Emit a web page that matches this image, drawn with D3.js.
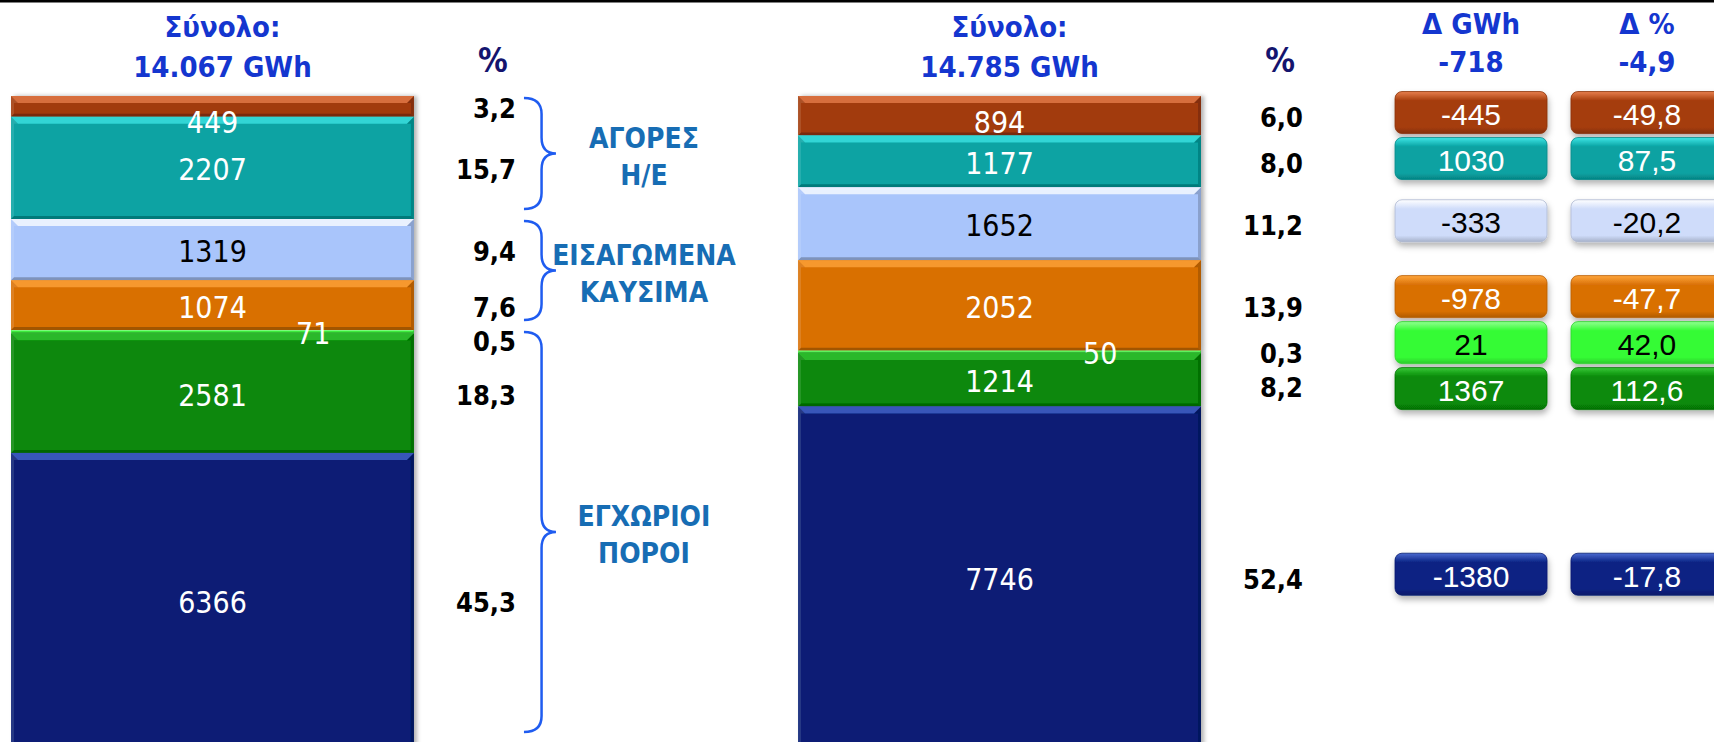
<!DOCTYPE html>
<html>
<head>
<meta charset="utf-8">
<script src="https://cdn.jsdelivr.net/npm/d3@7"></script>
<style>
  html, body { margin: 0; padding: 0; background: #fff; overflow: hidden; }
  svg { display: block; }
  .cond { font-family: "DejaVu Sans Condensed", "DejaVu Sans", sans-serif; font-stretch: condensed; }
  .arial { font-family: "Liberation Sans", Arial, sans-serif; }
</style>
</head>
<body>
<div id="chart"></div>
<script>
// sources in stack order, top to bottom
var sources = ["imports", "ipp", "gas", "oil", "res", "hydro", "lignite"];
var periods = ["current", "previous"];
var totals = ["14.067", "14.785"];

var valuesCurrent = [449, 2207, 1319, 1074, 71, 2581, 6366];
var valuesPrevious = [894, 1177, 1652, 2052, 50, 1214, 7746];

var pctCurrent = ["3,2", "15,7", "9,4", "7,6", "0,5", "18,3", "45,3"];
var pctPrevious = ["6,0", "8,0", "11,2", "13,9", "0,3", "8,2", "52,4"];

var deltaGWh = ["-445", "1030", "-333", "-978", "21", "1367", "-1380"];
var deltaPct = ["-49,8", "87,5", "-20,2", "-47,7", "42,0", "112,6", "-17,8"];
var deltaHeads = ["Δ GWh", "Δ %"];
var deltaTotals = ["-718", "-4,9"];

var groupNames = [["ΑΓΟΡΕΣ", "Η/Ε"], ["ΕΙΣΑΓΩΜΕΝΑ", "ΚΑΥΣΙΜΑ"], ["ΕΓΧΩΡΙΟΙ", "ΠΟΡΟΙ"]];
var groupFirst = [0, 2, 4];
var groupLast = [1, 3, 6];

// colours: base, highlight
var colors = {
  imports: ["#a23a0b", "#e8804e"],
  ipp: ["#07a3a3", "#40e6e6"],
  gas: ["#a9c5fb", "#ffffff"],
  oil: ["#d97006", "#ffa63c"],
  res: ["#3cec3c", "#90ff90"],
  hydro: ["#078807", "#38c838"],
  lignite: ["#071e74", "#4a6ad0"]
};
var boxColors = {
  imports: "#a53c0c", ipp: "#08a2a2", gas: "#cfdcfa", oil: "#d97006",
  res: "#35fb35", hydro: "#078a07", lignite: "#0b2283"
};
var darkText = ["gas", "res"];

var W = 1714, H = 742;

var svg = d3.select("#chart").append("svg")
  .attr("width", W)
  .attr("height", H);

var defs = svg.append("defs");

var barShadow = defs.append("filter").attr("id", "barShadow")
  .attr("x", "-5%").attr("y", "-5%").attr("width", "115%").attr("height", "110%");
barShadow.append("feDropShadow")
  .attr("dx", 3).attr("dy", 0).attr("stdDeviation", 2)
  .attr("flood-color", "#000").attr("flood-opacity", 0.3);

var boxShadow = defs.append("filter").attr("id", "boxShadow")
  .attr("x", "-10%").attr("y", "-20%").attr("width", "125%").attr("height", "160%");
boxShadow.append("feDropShadow")
  .attr("dx", 1).attr("dy", 4).attr("stdDeviation", 3)
  .attr("flood-color", "#000").attr("flood-opacity", 0.3);

sources.forEach(function (s) {
  var base = boxColors[s];
  var g = defs.append("linearGradient").attr("id", "box-" + s)
    .attr("x1", 0).attr("y1", 0).attr("x2", 0).attr("y2", 1);
  g.append("stop").attr("offset", "0%").attr("stop-color", d3.color(colors[s][1]).toString());
  g.append("stop").attr("offset", "22%").attr("stop-color", base);
  g.append("stop").attr("offset", "85%").attr("stop-color", base);
  g.append("stop").attr("offset", "100%").attr("stop-color", d3.color(base).darker(0.6).toString());
});

// top rule
svg.append("rect")
  .attr("x", 0).attr("y", 0)
  .attr("width", W).attr("height", 2.5)
  .attr("fill", "#000");

// scales
var x = d3.scaleBand()
  .domain(periods)
  .range([11, 1201])
  .paddingInner(0.488)
  .paddingOuter(0);

var y = d3.scaleLinear()
  .domain([0, 1])
  .range([96, 748]);

var rows = [valuesCurrent, valuesPrevious].map(function (vals, i) {
  var total = d3.sum(vals);
  var r = { period: periods[i] };
  sources.forEach(function (s, j) { r[s] = vals[j] / total; });
  return r;
});

var stack = d3.stack().keys(sources).order(d3.stackOrderNone)(rows);

var barData = periods.map(function (p, i) {
  var vals = i === 0 ? valuesCurrent : valuesPrevious;
  return sources.map(function (s, j) {
    var seg = stack[j][i];
    return { period: p, source: s, value: vals[j], y0: y(seg[0]), y1: y(seg[1]) };
  });
});

function bevel(g, d, bx, bw) {
  var h = d.y1 - d.y0;
  var b = Math.min(7, h / 3);
  var e = Math.min(3, h / 3);
  g.append("rect")
    .attr("x", bx).attr("y", d.y0)
    .attr("width", bw).attr("height", h)
    .attr("fill", colors[d.source][0]);
  // top
  g.append("polygon")
    .attr("points", [[bx, d.y0], [bx + bw, d.y0], [bx + bw - b, d.y0 + b], [bx + b, d.y0 + b]].join(" "))
    .attr("fill", colors[d.source][1]).attr("opacity", 0.75);
  // bottom
  g.append("polygon")
    .attr("points", [[bx, d.y1], [bx + bw, d.y1], [bx + bw - e, d.y1 - e], [bx + e, d.y1 - e]].join(" "))
    .attr("fill", "#000").attr("opacity", 0.25);
  // right
  g.append("polygon")
    .attr("points", [[bx + bw, d.y0], [bx + bw, d.y1], [bx + bw - e, d.y1 - e], [bx + bw - e, d.y0 + b], [bx + bw - b, d.y0 + b]].join(" "))
    .attr("fill", "#000").attr("opacity", 0.18);
  // left
  g.append("polygon")
    .attr("points", [[bx, d.y0], [bx, d.y1], [bx + e, d.y1 - e], [bx + e, d.y0 + b], [bx + b, d.y0 + b]].join(" "))
    .attr("fill", "#fff").attr("opacity", 0.12);
}

function spread(centers, gap) {
  var out = [];
  centers.forEach(function (c, i) {
    out.push(i ? Math.max(c, out[i - 1] + gap) : c);
  });
  return out;
}

function relax(centers, gap) {
  var out = centers.slice();
  for (var it = 0; it < 60; it++) {
    for (var i = 1; i < out.length; i++) {
      var d = out[i] - out[i - 1];
      if (d < gap) {
        var s = (gap - d) / 2;
        out[i - 1] -= s;
        out[i] += s;
      }
    }
  }
  return out;
}

periods.forEach(function (p, i) {
  var bx = x(p), bw = x.bandwidth();
  var segs = barData[i];

  var bar = svg.append("g").attr("filter", "url(#barShadow)");
  segs.forEach(function (d) { bevel(bar, d, bx, bw); });

  // values inside the bar
  segs.forEach(function (d) {
    var h = d.y1 - d.y0;
    var small = h < 10;
    var cy = small ? (d.y0 + d.y1) / 2 : Math.max((d.y0 + d.y1) / 2, d.y0 + 24);
    svg.append("text")
      .attr("class", "cond")
      .attr("x", small ? bx + bw * 0.75 : bx + bw / 2)
      .attr("y", cy + 2)
      .attr("text-anchor", "middle")
      .attr("dominant-baseline", "central")
      .attr("font-size", 30)
      .attr("fill", d.source === "gas" ? "#000" : "#fff")
      .text(d.value);
  });

  // title
  svg.append("text")
    .attr("class", "cond")
    .attr("x", bx + bw / 2 + 10)
    .attr("y", 37)
    .attr("text-anchor", "middle")
    .attr("font-size", 29)
    .attr("font-weight", "bold")
    .attr("fill", "#1436cf")
    .text("Σύνολο:");
  svg.append("text")
    .attr("class", "cond")
    .attr("x", bx + bw / 2 + 10)
    .attr("y", 77)
    .attr("text-anchor", "middle")
    .attr("font-size", 29)
    .attr("font-weight", "bold")
    .attr("fill", "#1436cf")
    .text(totals[i] + " GWh");

  // % column
  svg.append("text")
    .attr("class", "cond")
    .attr("x", bx + bw + 79)
    .attr("y", 72)
    .attr("text-anchor", "middle")
    .attr("font-size", 33)
    .attr("font-weight", "bold")
    .attr("fill", "#14146e")
    .text("%");

  var pcts = i === 0 ? pctCurrent : pctPrevious;
  var py = spread(segs.map(function (d) { return (d.y0 + d.y1) / 2; }), 34);
  pcts.forEach(function (t, j) {
    svg.append("text")
      .attr("class", "cond")
      .attr("x", bx + bw + 102)
      .attr("y", py[j] + 2)
      .attr("text-anchor", "end")
      .attr("dominant-baseline", "central")
      .attr("font-size", 27)
      .attr("font-weight", "bold")
      .attr("fill", "#000")
      .text(t);
  });
});

// braces and group names beside the first bar
function bracePath(bx, y1, y2, w) {
  var ym = (y1 + y2) / 2, r = Math.min(16, (y2 - y1) / 4), m = bx + w * 0.55;
  var p = d3.path();
  p.moveTo(bx, y1);
  p.quadraticCurveTo(m, y1, m, y1 + r);
  p.lineTo(m, ym - r);
  p.quadraticCurveTo(m, ym, bx + w, ym);
  p.quadraticCurveTo(m, ym, m, ym + r);
  p.lineTo(m, y2 - r);
  p.quadraticCurveTo(m, y2, bx, y2);
  return p.toString();
}

var firstEnd = x(periods[0]) + x.bandwidth();
groupNames.forEach(function (lines, k) {
  var top = barData[0][groupFirst[k]].y0;
  var bot = Math.min(barData[0][groupLast[k]].y1, H);
  var y1 = top + 2, y2 = bot - 10;
  svg.append("path")
    .attr("d", bracePath(firstEnd + 110, y1, y2, 32))
    .attr("fill", "none")
    .attr("stroke", "#1f5cf0")
    .attr("stroke-width", 2.5);
  var mid = (y1 + y2) / 2 + 3;
  lines.forEach(function (t, li) {
    svg.append("text")
      .attr("class", "cond")
      .attr("x", firstEnd + 230)
      .attr("y", mid + (li - 0.5) * 37)
      .attr("text-anchor", "middle")
      .attr("dominant-baseline", "central")
      .attr("font-size", 28)
      .attr("font-weight", "bold")
      .attr("fill", "#176db4")
      .text(t);
  });
});

// delta columns
var col = d3.scaleBand()
  .domain(deltaHeads)
  .range([1395, 1723])
  .paddingInner(0.136)
  .paddingOuter(0);

var boxH = 42;
var boxY = relax(barData[1].map(function (d) { return (d.y0 + d.y1) / 2; }), 46)
  .map(function (v) { return v - 3; });

deltaHeads.forEach(function (hd, c) {
  var cx = col(hd) + col.bandwidth() / 2;
  svg.append("text")
    .attr("class", "cond")
    .attr("x", cx)
    .attr("y", 34)
    .attr("text-anchor", "middle")
    .attr("font-size", 29)
    .attr("font-weight", "bold")
    .attr("fill", "#1436cf")
    .text(hd);
  svg.append("text")
    .attr("class", "cond")
    .attr("x", cx)
    .attr("y", 72)
    .attr("text-anchor", "middle")
    .attr("font-size", 29)
    .attr("font-weight", "bold")
    .attr("fill", "#1436cf")
    .text(deltaTotals[c]);

  var vals = c === 0 ? deltaGWh : deltaPct;
  sources.forEach(function (s, j) {
    svg.append("rect")
      .attr("x", col(hd))
      .attr("y", boxY[j] - boxH / 2)
      .attr("width", col.bandwidth())
      .attr("height", boxH)
      .attr("rx", 7)
      .attr("fill", "url(#box-" + s + ")")
      .attr("stroke", d3.color(boxColors[s]).darker(0.5).toString())
      .attr("stroke-width", 0.8)
      .attr("filter", "url(#boxShadow)");
    svg.append("text")
      .attr("class", "arial")
      .attr("x", cx)
      .attr("y", boxY[j] + 2)
      .attr("text-anchor", "middle")
      .attr("dominant-baseline", "central")
      .attr("font-size", 30)
      .attr("fill", darkText.indexOf(s) >= 0 ? "#000" : "#fff")
      .text(vals[j]);
  });
});
</script>
</body>
</html>
